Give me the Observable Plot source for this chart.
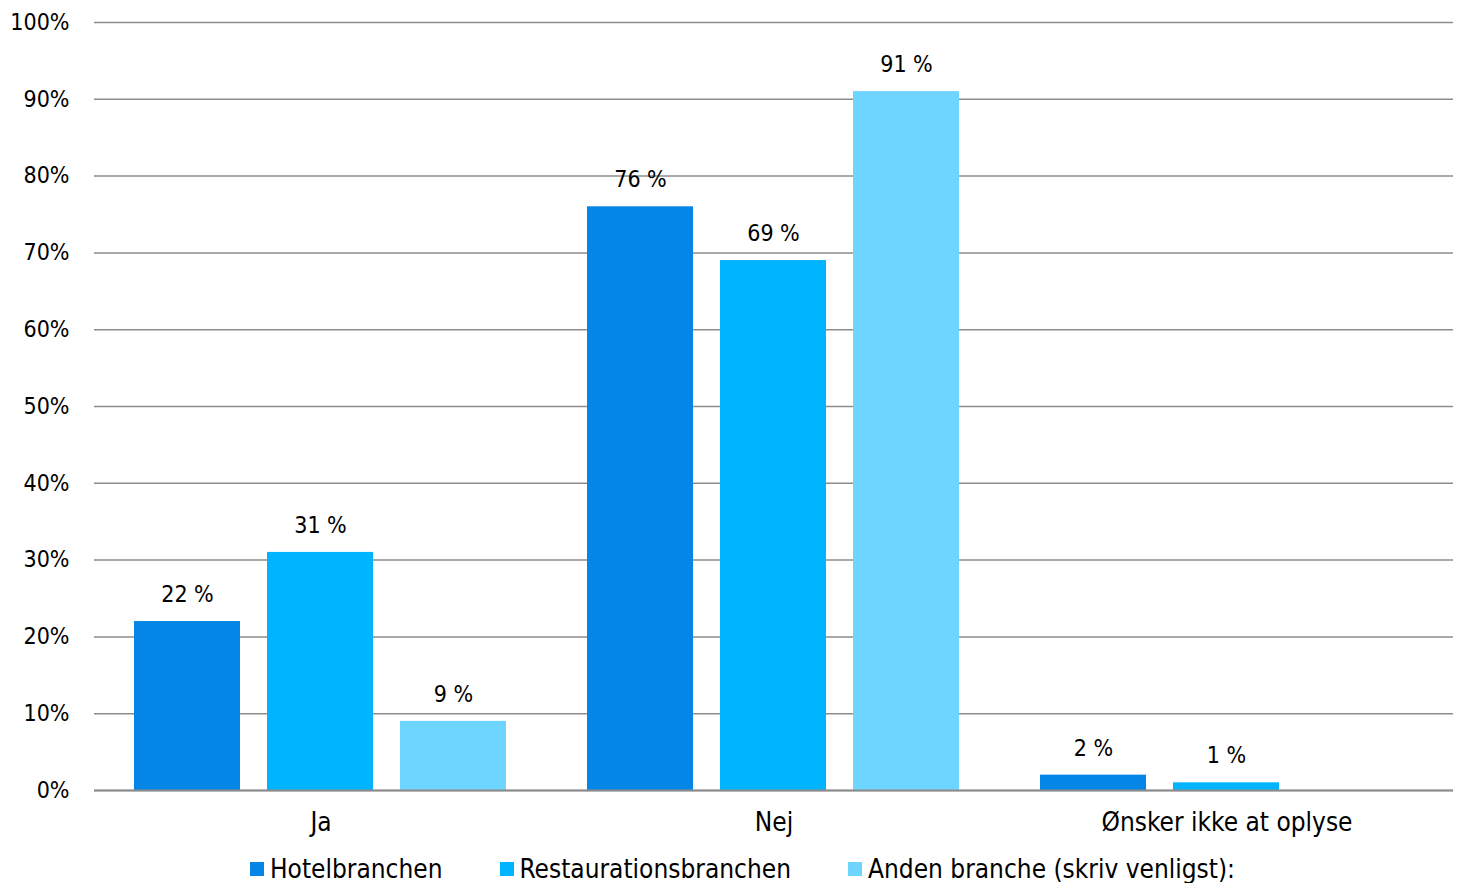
<!DOCTYPE html>
<html>
<head>
<meta charset="utf-8">
<script src="https://cdn.jsdelivr.net/npm/d3@7"></script>
<script src="https://cdn.jsdelivr.net/npm/@observablehq/plot@0.6"></script>
<style>
  html, body { margin: 0; padding: 0; background: #fff; }
  body { width: 1457px; height: 883px; overflow: hidden; font-family: "DejaVu Sans Condensed", "DejaVu Sans", sans-serif; }
  #legend { position: absolute; left: 250px; top: 854px; display: flex; font-size: 26px; color: #000; line-height: 30px; }
  .item { display: flex; align-items: center; }
  .sw { width: 14px; height: 14px; margin-right: 6px; }
</style>
</head>
<body>
<div id="chart"></div>
<div id="legend"></div>
<script>
const categories = ["Ja", "Nej", "Ønsker ikke at oplyse"];
const series = ["Hotelbranchen", "Restaurationsbranchen", "Anden branche (skriv venligst):"];
const hotel = [22, 76, 2];
const restaurant = [31, 69, 1];
const anden = [9, 91, null];
const yTicks = [0, 10, 20, 30, 40, 50, 60, 70, 80, 90, 100];
const colors = ["#0486E6", "#00B4FF", "#6DD5FF"];

const seriesValues = [hotel, restaurant, anden];
const data = [];
categories.forEach((c, i) => {
  series.forEach((s, j) => {
    const v = seriesValues[j][i];
    if (v != null) data.push({category: c, series: s, value: v});
  });
});

const chart = Plot.plot({
  width: 1457,
  height: 845,
  marginTop: 22,
  marginBottom: 55,
  marginLeft: 93,
  marginRight: 3,
  style: {fontFamily: "'DejaVu Sans Condensed', 'DejaVu Sans', sans-serif", background: "#fff", color: "#000"},
  fx: {domain: categories, padding: 0, label: null},
  x: {domain: series, paddingInner: 0.2, paddingOuter: 0.3, axis: null},
  y: {domain: [0, 100], label: null},
  color: {domain: series, range: colors},
  marks: [
    Plot.gridY(yTicks, {stroke: "#8c8c8c", strokeOpacity: 1, strokeWidth: 1.5}),
    Plot.barY(data, {fx: "category", x: "series", y: "value", fill: "series"}),
    Plot.ruleY([0], {stroke: "#8c8c8c", strokeWidth: 2}),
    Plot.text(data, {fx: "category", x: "series", y: "value", text: d => `${d.value} %`, dy: -27, fontSize: 23, fill: "#000"}),
    Plot.axisY(yTicks, {tickFormat: d => d + "%", tickSize: 0, tickPadding: 25, fontSize: 23, fill: "#000", label: null}),
    Plot.axisFx({anchor: "bottom", tickSize: 0, tickPadding: 22, fontSize: 26, fill: "#000", label: null})
  ]
});
document.getElementById("chart").appendChild(chart);

const legend = document.getElementById("legend");
const gaps = [57, 57, 0];
series.forEach((s, j) => {
  const item = document.createElement("div");
  item.className = "item";
  item.style.marginRight = gaps[j] + "px";
  const sw = document.createElement("span");
  sw.className = "sw";
  sw.style.background = colors[j];
  const t = document.createElement("span");
  t.textContent = s;
  item.appendChild(sw);
  item.appendChild(t);
  legend.appendChild(item);
});
</script>
</body>
</html>
